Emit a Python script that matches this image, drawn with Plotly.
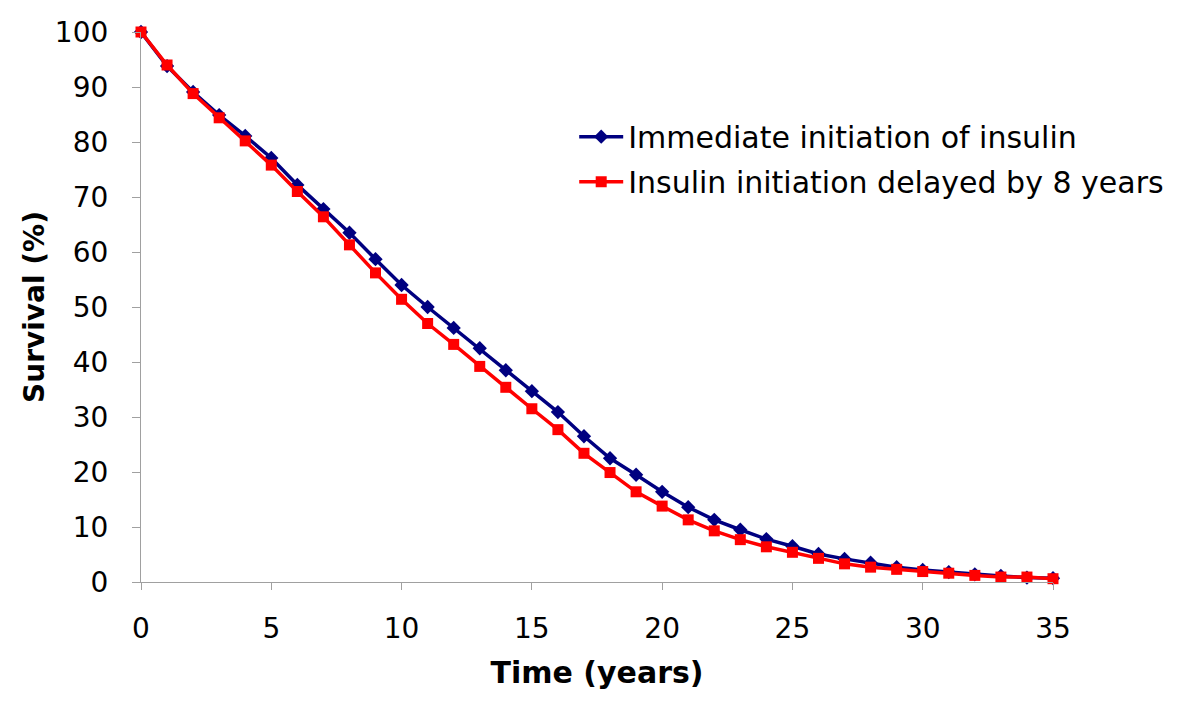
import plotly.graph_objects as go

years = list(range(0, 36))
immediate = [100, 93.8, 89.1, 84.9, 81.1, 77.1, 72.2, 67.8, 63.5, 58.7,
             54.0, 50.0, 46.2, 42.5, 38.5, 34.7, 30.9, 26.5, 22.5, 19.5,
             16.4, 13.6, 11.3, 9.5, 7.8, 6.5, 5.1, 4.2, 3.5, 2.7,
             2.2, 1.8, 1.4, 1.1, 0.8, 0.7]
delayed = [100, 94.0, 88.8, 84.4, 80.2, 75.8, 71.0, 66.4, 61.3, 56.2,
           51.4, 47.0, 43.2, 39.2, 35.4, 31.5, 27.7, 23.4, 19.9, 16.4,
           13.8, 11.3, 9.3, 7.7, 6.4, 5.4, 4.3, 3.3, 2.7, 2.3,
           1.9, 1.6, 1.2, 0.9, 0.9, 0.6]
x_ticks = [0, 5, 10, 15, 20, 25, 30, 35]
y_ticks = [0, 10, 20, 30, 40, 50, 60, 70, 80, 90, 100]

FONT = "Verdana, DejaVu Sans, sans-serif"

fig = go.Figure()
fig.add_trace(go.Scatter(
    x=years, y=immediate, mode="lines+markers",
    name="Immediate initiation of insulin", legendgroup="a",
    line=dict(color="#000080", width=3.5),
    marker=dict(symbol="diamond", size=11, color="#000080"),
    cliponaxis=False,
))
fig.add_trace(go.Scatter(
    x=years, y=delayed, mode="lines+markers",
    name="Insulin initiation delayed by 8 years", legendgroup="b",
    line=dict(color="#ff0000", width=3.5),
    marker=dict(symbol="square", size=11, color="#ff0000"),
    cliponaxis=False,
))

# page body has an 8px default margin; margins compensate for it
fig.update_layout(
    width=1200, height=725,
    paper_bgcolor="white", plot_bgcolor="white",
    margin=dict(l=133, r=155, t=24, b=151, autoexpand=False),
    font=dict(family=FONT, size=28, color="black"),
    legend=dict(x=0.475, y=0.857, xanchor="left", yanchor="top",
                font=dict(size=30), bgcolor="rgba(0,0,0,0)",
                itemwidth=44, tracegroupgap=3, traceorder="grouped"),
    xaxis=dict(
        range=[0, 35], tickvals=x_ticks, showgrid=False, zeroline=False,
        showline=True, linecolor="#a0a0a0", linewidth=1.2, automargin=False,
        ticks="outside", ticklen=7, tickcolor="#a0a0a0", tickwidth=1.2,
        ticklabelstandoff=14,
        title=dict(text="<b>Time (years)</b>", font=dict(size=30), standoff=18),
    ),
    yaxis=dict(
        range=[0, 100], tickvals=y_ticks, showgrid=False, zeroline=False,
        showline=True, linecolor="#a0a0a0", linewidth=1.2, automargin=False,
        ticks="outside", ticklen=8, tickcolor="#a0a0a0", tickwidth=1.2,
        ticklabelstandoff=18,
        title=dict(text="<b>Survival (%)</b>", font=dict(size=28), standoff=2),
    ),
)

fig.write_html("out.html")
